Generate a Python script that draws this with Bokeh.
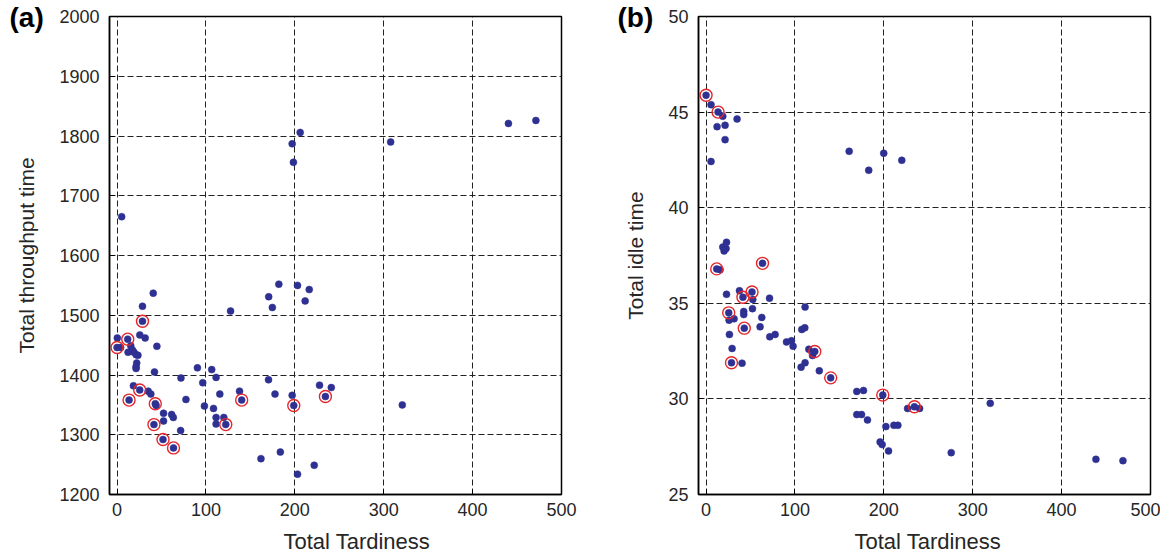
from bokeh.plotting import figure
from bokeh.layouts import row
from bokeh.models import Range1d, FixedTicker, Title
from bokeh.embed import file_html
from bokeh.resources import INLINE

# ---------------- data: panel (a) ----------------
a_x = [40.7, 28.6, 0.3, 4, 25.6, 31.6, 44.8, 15.4, 17.3, 12.4, 19, 21.5, 23.5,
       22.1, 21.4, 21.4, 42.1, 90.4, 106.5, 111.4, 71.9, 96.4, 18.4, 35, 38,
       44, 77.5, 115.6, 137.8, 170.4, 177.7, 197, 98.3, 108.5, 111.4, 120.1,
       111.4, 52.3, 61.4, 63.3, 52.3, 71.5, 161.9, 183.7, 170.6, 182, 203,
       174.7, 127.7, 216.2, 211.6, 227.8, 241, 320.9, 203, 221.8, 440.3,
       471.2, 307.8, 206, 197, 198.4, 5.2]
a_y = [1537, 1515, 1462, 1446, 1467, 1462, 1448, 1449, 1442, 1438, 1438, 1434, 1433,
       1420, 1414, 1411, 1405, 1412, 1409, 1396, 1395, 1387, 1382, 1373, 1368,
       1349, 1359, 1368, 1373, 1392, 1368, 1366, 1348, 1344, 1329, 1329,
       1318, 1336, 1334, 1329, 1323, 1307, 1260, 1271, 1531, 1552, 1550,
       1513, 1507, 1543, 1524, 1383, 1379, 1350, 1234, 1249, 1821,
       1826, 1790, 1806, 1787, 1756, 1665]

# ---------------- data: panel (b) ----------------
b_x = [5.6, 18.8, 34.9, 12.4, 21.4, 21.4, 5.6, 161, 199.9, 220.2, 183,
       23, 18.8, 22.5, 20.3, 15.8, 23, 37.6, 52.6, 71.4, 52.2, 42.4, 42.4,
       31.5, 25.9, 62.7, 60.8, 26.3, 71.7, 77.7, 90.5, 96.1, 97.9, 111.4,
       107.7, 111.1, 29.3, 115.6, 119.8, 40.5, 106.9, 111.4, 127.4, 169.6,
       177.1, 226.7, 240.2, 169.6, 174.9, 181.6, 202.3, 211.3, 215.8, 195.8,
       198.1, 205.3, 275.8, 319.7, 438.6, 469]
b_y = [45.39, 44.78, 44.64, 44.24, 44.31, 43.56, 42.42, 42.95, 42.85, 42.48, 41.96,
       38.19, 37.94, 37.86, 37.74, 36.76, 35.47, 35.66, 35.2, 35.27, 34.72, 34.57, 34.41,
       34.19, 34.12, 34.26, 33.77, 33.37, 33.25, 33.37, 32.98, 33.04, 32.76, 34.8,
       33.63, 33.72, 32.64, 32.6, 32.27, 31.87, 31.66, 31.89, 31.47, 30.39,
       30.44, 29.5, 29.5, 29.18, 29.18, 28.9, 28.55, 28.62, 28.62, 27.75,
       27.61, 27.28, 27.19, 29.77, 26.84, 26.77]

# ---------------- pareto (circled) solutions ----------------
p_x = [0, 12, 13.5, 25.5, 28.6, 41.5, 43, 51.7, 63.5, 122.3, 140.2, 198.8, 234.4]
p_ya = [1446, 1460, 1358, 1375, 1490, 1317, 1352, 1292, 1278, 1317, 1358, 1349, 1364]
p_yb = [45.88, 36.8, 45.0, 34.5, 31.89, 35.32, 33.7, 35.59, 37.09, 32.48, 31.1, 30.2, 29.59]

x_ticks = [0, 100, 200, 300, 400, 500]
ya_ticks = [1200, 1300, 1400, 1500, 1600, 1700, 1800, 1900, 2000]
yb_ticks = [25, 30, 35, 40, 45, 50]

FONT = "Liberation Sans"
TXT = "#262626"
DOT = "#2E3192"
RED = "#E5262A"


def make_panel(xs, ys, pys, yr, yticks, ylabel, letter, letter_offset, mbl, mbr, title_offset):
    p = figure(output_backend="svg", toolbar_location=None,
               frame_width=452, frame_height=478,
               min_border_left=mbl, min_border_right=mbr,
               min_border_top=16, min_border_bottom=66,
               x_range=Range1d(-8.5, 500), y_range=Range1d(*yr))
    p.background_fill_color = "white"
    p.border_fill_color = "white"
    p.outline_line_color = "black"
    p.outline_line_width = 1.5
    p.xaxis.ticker = FixedTicker(ticks=x_ticks)
    p.yaxis.ticker = FixedTicker(ticks=yticks)
    for ax in (p.xaxis, p.yaxis):
        ax.axis_line_color = "black"
        ax.axis_line_width = 1.5
        ax.major_tick_in = 5
        ax.major_tick_out = 0
        ax.minor_tick_line_color = None
        ax.major_tick_line_color = "black"
        ax.major_label_text_font = FONT
        ax.major_label_text_font_size = "18px"
        ax.major_label_text_color = TXT
        ax.axis_label_text_font = FONT
        ax.axis_label_text_font_size = "21px"
        ax.axis_label_text_font_style = "normal"
        ax.axis_label_text_color = TXT
    p.xaxis.major_label_standoff = 8
    p.yaxis.major_label_standoff = 10
    p.yaxis.axis_label = ylabel
    p.yaxis.axis_label_standoff = 18
    for g in (p.xgrid, p.ygrid):
        g.grid_line_color = "#222222"
        g.grid_line_dash = "6 3"
        g.grid_line_width = 1
    p.add_layout(Title(text="Total Tardiness", align="left", offset=title_offset,
                       text_font=FONT, text_font_size="22px", text_font_style="normal",
                       text_color=TXT, standoff=17), "below")
    p.add_layout(Title(text=letter, align="left", offset=letter_offset,
                       text_font=FONT, text_font_size="28px", text_font_style="bold",
                       text_color="black", standoff=-32), "above")
    p.scatter(xs, ys, marker="circle", size=7, fill_color=DOT, line_color=DOT, line_width=0.5)
    p.scatter(p_x, pys, marker="circle", size=7, fill_color=DOT, line_color=DOT, line_width=0.5)
    p.scatter(p_x, pys, marker="circle", size=12, fill_color=None, line_color=RED, line_width=1.4)
    return p


p1 = make_panel(a_x, a_y, p_ya, (1200, 2000), ya_ticks, "Total throughput time", "(a)", -100,
                109, 29, 174)
p2 = make_panel(b_x, b_y, p_yb, (25, 50), yb_ticks, "Total idle time", "(b)", -81,
                108, 10, 156)

layout = row(p1, p2)
open("out.html", "w").write(file_html(layout, INLINE))
